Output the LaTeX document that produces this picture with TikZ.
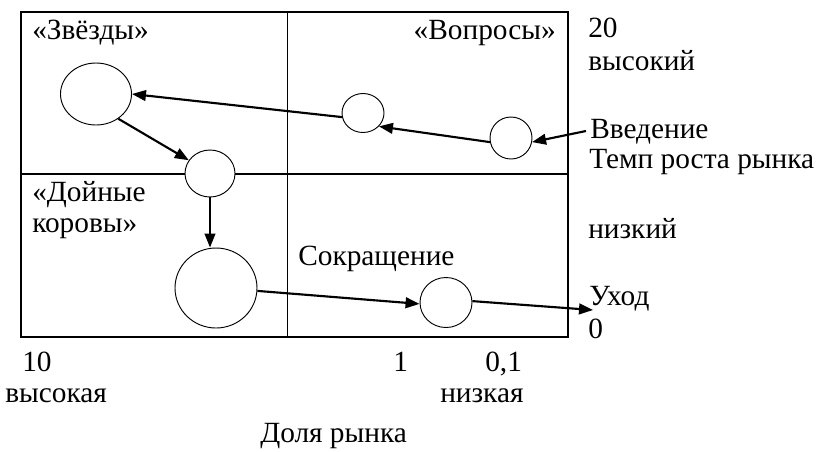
\documentclass[tikz,border=0pt]{standalone}
\usepackage{fontspec}
\setmainfont{Liberation Serif}
\usetikzlibrary{shapes.geometric,arrows.meta}

\begin{document}
\begin{tikzpicture}  % ------ Матрица рост / доля рынка ---------------
      [x=0.75pt,y=-0.75pt,
       bulle/.style={draw,ellipse,inner sep=0pt,line width=0.7pt},
       fleche/.style={-{Triangle[length=10.5pt,width=8pt]},line width=1.6pt},
       txt/.style={inner sep=0pt,anchor=base west,font=\fontsize{22}{26}\selectfont}]
    \useasboundingbox (0,0) rectangle (827,451);
    \coordinate (A1) at (21,12);
    \coordinate (A2) at (568,12);
    \coordinate (A3) at (568,337);
    \coordinate (A4) at (21,337);
    \coordinate (M1) at (21,174);
    \coordinate (M2) at (568,174);
    \coordinate (M3) at (287,12);
    \coordinate (M4) at (287,337);

    \draw [line width=1.8pt] (A1) -- (A2) -- (A3) -- (A4) -- cycle ;
    \draw [line width=1.8pt] (M1) -- (M2) ;
    \draw [line width=0.7pt] (M3) -- (M4) ;

    % cercles
    \node [bulle,minimum width=53.25pt,minimum height=46.5pt] (C1) at (96,94) {};
    \node [bulle,minimum width=37.5pt,minimum height=35.25pt,fill=white] (C2) at (210,173.5) {};
    \node [bulle,minimum width=31.5pt,minimum height=29.25pt] (C3) at (363,113) {};
    \node [bulle,minimum width=31.5pt,minimum height=31.5pt] (C4) at (511,138) {};
    \node [bulle,minimum width=61.5pt,minimum height=60pt] (C5) at (216,288) {};
    \node [bulle,minimum width=39pt,minimum height=37.5pt] (C6) at (446,302.5) {};

    \coordinate (E1) at (586,131);
    \coordinate (U1) at (593,310);

    % fleches
    \draw [fleche] (E1) -- (C4.-11) ;
    \draw [fleche] (C4.191) -- (C3.-40) ;
    \draw [fleche] (C3.191) -- (C1.0) ;
    \draw [fleche] (C1.-48) -- (C2.148) ;
    \draw [fleche] (C2.south) -- (C2.south |- C5.north) ;
    \draw [fleche] (C5.-4) -- (C6.183) ;
    \draw [fleche] (C6.3) -- (U1) ;

    % textes
    \node [txt] (T1) at (32,39) {«Звёзды»} ;
    \node [txt,anchor=base east] (T2) at (556,39) {«Вопросы»} ;
    \node [txt] (T3) at (32,201) {«Дойные} ;
    \node [txt] (T4) at (32,232) {коровы»} ;
    \node [txt] (T5) at (298,265) {Сокращение} ;
    \node [txt] (R1) at (588,37) {20} ;
    \node [txt] (R2) at (588,70) {высокий} ;
    \node [txt] (R3) at (590,138) {Введение} ;
    \node [txt] (R4) at (589,168) {Темп роста рынка} ;
    \node [txt] (R5) at (588,238) {низкий} ;
    \node [txt] (R6) at (589,305) {Уход} ;
    \node [txt] (R7) at (588,338) {0} ;
    \node [txt] (B1) at (22,371) {10} ;
    \node [txt] (B2) at (5,402) {высокая} ;
    \node [txt] (B3) at (393,371) {1} ;
    \node [txt] (B4) at (485,371) {0,1} ;
    \node [txt] (B5) at (440,402) {низкая} ;
    \node [txt] (B6) at (260,442) {Доля рынка} ;
\end{tikzpicture}
\end{document}
